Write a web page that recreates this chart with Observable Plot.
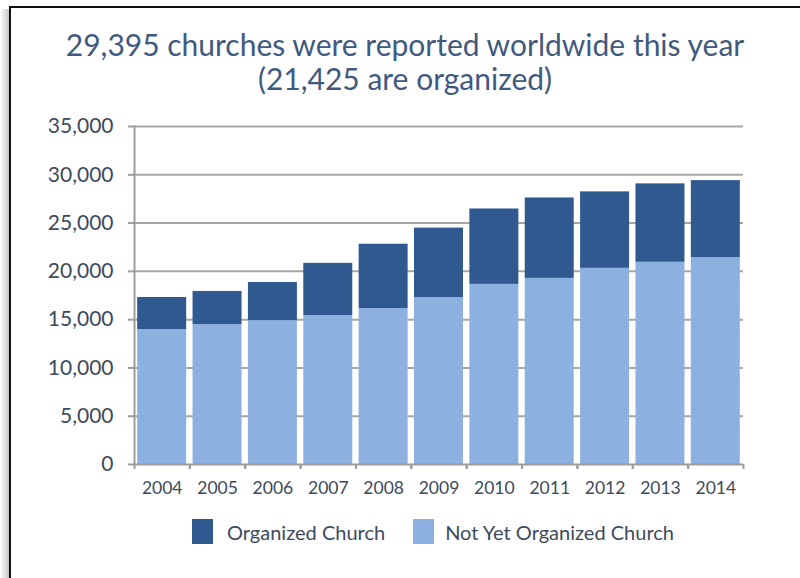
<!DOCTYPE html>
<html><head><meta charset="utf-8">
<script src="https://cdn.jsdelivr.net/npm/d3@7"></script>
<script src="https://cdn.jsdelivr.net/npm/@observablehq/plot@0.6"></script>
<style>
html,body{margin:0;padding:0;background:#fff;overflow:hidden;}
body{width:800px;height:578px;position:relative;font-family:Lato,"Open Sans",sans-serif;}
#shadow{position:absolute;left:0;top:9px;width:9px;height:569px;background:linear-gradient(to right,#ffffff,#c4c4c4);}
#frame{position:absolute;left:9px;top:6px;width:789px;height:572px;border-left:2px solid #111;border-top:2px solid #111;}
#title{position:absolute;left:10px;width:790px;top:27px;text-align:center;color:#3f5a7e;font-size:30px;line-height:34px;}
#chart{position:absolute;left:0;top:100px;}
#legend{position:absolute;left:192px;top:519px;display:flex;align-items:center;font-size:20px;color:#3d4a5c;}
#legend .item{display:flex;align-items:center;margin-right:28px;}
#legend .sw{width:21px;height:25px;display:inline-block;margin-right:14px;}
#legend .item + .item .sw{margin-right:11px;}
</style></head><body>
<div id="shadow"></div>
<div id="frame"></div>
<div id="title"></div>
<div id="chart"></div>
<div id="legend"></div>
<script>
const titleLines = ["29,395 churches were reported worldwide this year", "(21,425 are organized)"];
const years = ["2004","2005","2006","2007","2008","2009","2010","2011","2012","2013","2014"];
// lower (light) segment
const notYetOrganized = [13980, 14480, 14900, 15420, 16150, 17290, 18650, 19270, 20310, 20940, 21425];
// upper (dark) segment
const organized = [3310, 3440, 3950, 5410, 6660, 7190, 7810, 8330, 7920, 8120, 7970];
const seriesNames = ["Organized Church", "Not Yet Organized Church"];
const seriesColors = ["#30598f", "#8cb1e1"];
const yTicks = [0, 5000, 10000, 15000, 20000, 25000, 30000, 35000];

document.getElementById("title").innerHTML = titleLines.map(t => `<div>${t}</div>`).join("");

const rows = [];
years.forEach((yr, i) => {
  rows.push({year: yr, series: seriesNames[1], value: notYetOrganized[i]});
  rows.push({year: yr, series: seriesNames[0], value: organized[i]});
});

const W = 800, H = 410, mL = 134, mR = 57, mT = 26, mB = 46;
const pIn = 0.115, pOut = 0.0575;
const step = (W - mL - mR) / (years.length - pIn + 2 * pOut);
const axisColor = "#9c9c9c";
const textColor = "#3d4a5c";

const chart = Plot.plot({
  width: W, height: H, marginLeft: mL, marginRight: mR, marginTop: mT, marginBottom: mB,
  style: {fontFamily: "Lato, 'Open Sans', sans-serif", color: textColor, background: "transparent"},
  x: {domain: years, paddingInner: pIn, paddingOuter: pOut, round: false, label: null},
  y: {domain: [0, 35000], label: null},
  color: {domain: seriesNames, range: seriesColors},
  marks: [
    Plot.ruleY(yTicks.filter(d => d > 0), {stroke: "#a8a6a4", strokeWidth: 2}),
    Plot.barY(rows, {x: "year", y: "value", fill: "series"}),
    Plot.ruleY([0], {stroke: axisColor, strokeWidth: 2}),
    Plot.frame({anchor: "left", stroke: axisColor, strokeWidth: 2}),
    Plot.axisY({ticks: yTicks, tickFormat: d3.format(","), tickSize: 6, tickPadding: 15, stroke: axisColor, strokeWidth: 2, fill: textColor, fontSize: 21, label: null}),
    Plot.axisX({tickSize: 0, tickPadding: 17, fill: textColor, fontSize: 17.5, label: null}),
    Plot.axisX({tickSize: 5, tickFormat: () => "", dx: -step / 2, stroke: axisColor, strokeWidth: 2, label: null}),
    Plot.axisX({tickSize: 5, tickFormat: () => "", dx: step / 2, stroke: axisColor, strokeWidth: 2, label: null})
  ]
});
document.getElementById("chart").appendChild(chart);

document.getElementById("legend").innerHTML = seriesNames.map((s, i) =>
  `<span class="item"><span class="sw" style="background:${seriesColors[i]}"></span><span>${s}</span></span>`).join("");
</script>
</body></html>
